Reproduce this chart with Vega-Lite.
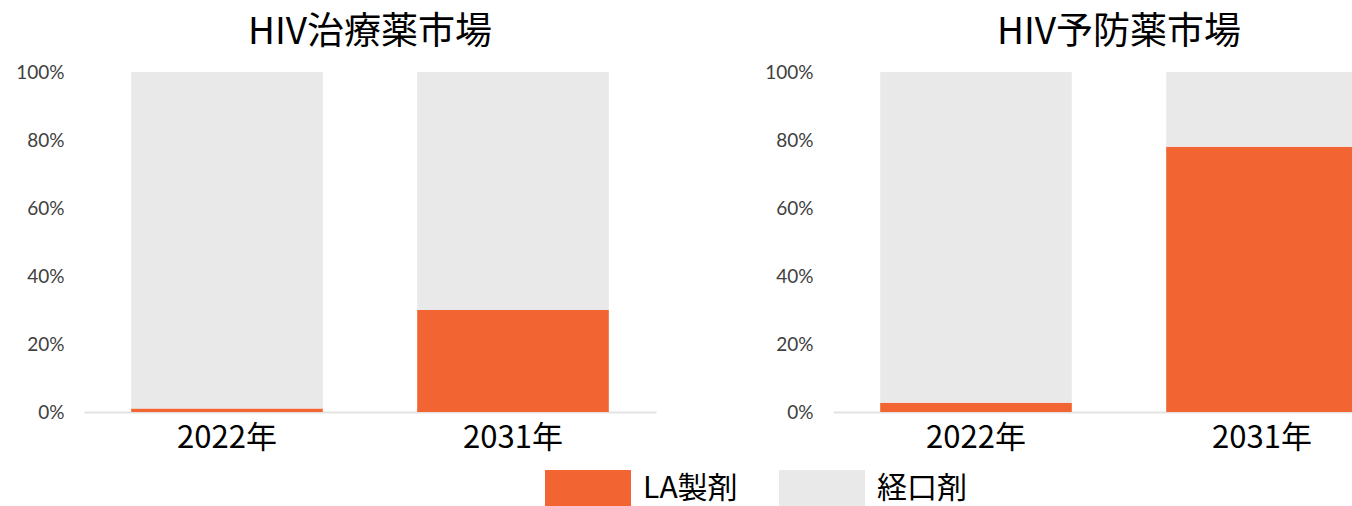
{
  "$schema": "https://vega.github.io/schema/vega-lite/v6.json",
  "padding": {"left": 15, "top": 14, "right": 0, "bottom": 0},
  "background": "white",
  "datasets": {
    "rows": [
      {"market": "HIV治療薬市場", "year": "2022年", "type": "LA製剤", "share": 0.01},
      {"market": "HIV治療薬市場", "year": "2022年", "type": "経口剤", "share": 0.99},
      {"market": "HIV治療薬市場", "year": "2031年", "type": "LA製剤", "share": 0.30},
      {"market": "HIV治療薬市場", "year": "2031年", "type": "経口剤", "share": 0.70},
      {"market": "HIV予防薬市場", "year": "2022年", "type": "LA製剤", "share": 0.027},
      {"market": "HIV予防薬市場", "year": "2022年", "type": "経口剤", "share": 0.973},
      {"market": "HIV予防薬市場", "year": "2031年", "type": "LA製剤", "share": 0.78},
      {"market": "HIV予防薬市場", "year": "2031年", "type": "経口剤", "share": 0.22}
    ]
  },
  "data": {"name": "rows"},
  "spacing": 108,
  "hconcat": [
    {
      "title": {"text": "HIV治療薬市場"},
      "transform": [{"filter": "datum.market === 'HIV治療薬市場'"}],
      "width": 572,
      "height": 340,
      "mark": {"type": "bar"},
      "encoding": {
        "x": {"field": "year", "type": "nominal", "scale": {"paddingInner": 0.33, "paddingOuter": 0.165}, "axis": {"title": null}},
        "y": {"field": "share", "type": "quantitative", "stack": "zero", "scale": {"domain": [0, 1]}, "axis": {"title": null, "values": [0, 0.2, 0.4, 0.6, 0.8, 1]}},
        "color": {
          "field": "type",
          "type": "nominal",
          "scale": {"domain": ["LA製剤", "経口剤"], "range": ["#F26532", "#E9E9E9"]},
          "legend": {
            "title": null,
            "orient": "none",
            "direction": "horizontal",
            "legendX": 461,
            "legendY": 374,
            "symbolType": "M-1,-0.45H1V0.45H-1Z",
            "symbolSize": 7396,
            "symbolStrokeWidth": 0,
            "symbolOpacity": 1,
            "labelFontSize": 30,
            "labelFont": "Noto Sans CJK JP",
            "labelColor": "#000000",
            "labelOffset": 12,
            "columnPadding": 41
          }
        },
        "order": {"field": "type", "sort": "ascending"}
      }
    },
    {
      "title": {"text": "HIV予防薬市場"},
      "transform": [{"filter": "datum.market === 'HIV予防薬市場'"}],
      "width": 572,
      "height": 340,
      "mark": {"type": "bar"},
      "encoding": {
        "x": {"field": "year", "type": "nominal", "scale": {"paddingInner": 0.33, "paddingOuter": 0.165}, "axis": {"title": null}},
        "y": {"field": "share", "type": "quantitative", "stack": "zero", "scale": {"domain": [0, 1]}, "axis": {"title": null, "values": [0, 0.2, 0.4, 0.6, 0.8, 1]}},
        "color": {"field": "type", "type": "nominal", "scale": {"domain": ["LA製剤", "経口剤"], "range": ["#F26532", "#E9E9E9"]}},
        "order": {"field": "type", "sort": "ascending"}
      }
    }
  ],
  "resolve": {"legend": {"color": "shared"}},
  "config": {
    "view": {"stroke": null},
    "title": {"fontSize": 37, "font": "Noto Sans CJK JP", "fontWeight": "normal", "color": "#000000", "offset": 11, "anchor": "middle"},
    "axisX": {
      "labelAngle": 0,
      "labelFontSize": 31,
      "labelFont": "Noto Sans CJK JP",
      "labelColor": "#000000",
      "ticks": false,
      "domainColor": "#e3e3e3",
      "domainWidth": 2,
      "labelPadding": 11
    },
    "axisY": {
      "format": "%",
      "grid": false,
      "domain": false,
      "ticks": false,
      "labelFontSize": 19,
      "labelFont": "Lato",
      "labelColor": "#404040",
      "labelPadding": 20
    }
  }
}
